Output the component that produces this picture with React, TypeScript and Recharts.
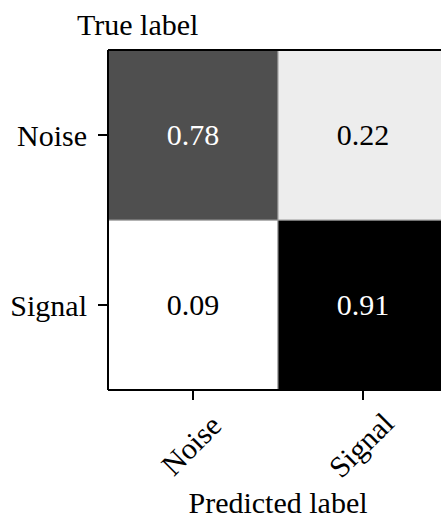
import { Bar, BarChart, Cell, LabelList, ReferenceLine, XAxis, YAxis } from "recharts";

const predictedLabels = ["Noise", "Signal"];
const trueLabels = ["Noise", "Signal"];
// rows of the matrix, by true label
const noiseRowValues = [0.78, 0.22];
const signalRowValues = [0.09, 0.91];
const yTicks = [0.5, 1.5];

const FONT = "Liberation Serif, Times New Roman, Times, serif";
const FONT_SIZE = 30;

// greys as drawn in the reference
const shades: Record<string, string> = {
  "0.78": "#4f4f4f",
  "0.22": "#ededed",
  "0.09": "#ffffff",
  "0.91": "#000000",
};

function shade(value: number): string {
  return shades[value.toFixed(2)] ?? "#888888";
}

const rows = predictedLabels.map((label, i) => ({
  predicted: label,
  signalCell: 1,
  noiseCell: 1,
  signalValue: signalRowValues[i],
  noiseValue: noiseRowValues[i],
}));

function CellText(props: any) {
  const { x, y, width, height, value } = props;
  return (
    <text
      x={x + width / 2}
      y={y + height / 2 - 1}
      textAnchor="middle"
      dominantBaseline="central"
      style={{ fontFamily: FONT, fontSize: FONT_SIZE }}
      fill={value > 0.5 ? "#ffffff" : "#000000"}
    >
      {value.toFixed(2)}
    </text>
  );
}

function RotatedTick(props: any) {
  const { x, y, payload } = props;
  const cx = x - 2;
  const cy = y + 43;
  return (
    <text
      x={cx}
      y={cy}
      textAnchor="middle"
      dominantBaseline="central"
      style={{ fontFamily: FONT, fontSize: FONT_SIZE }}
      fill="#000"
      transform={`rotate(-45 ${cx} ${cy})`}
    >
      {payload.value}
    </text>
  );
}

export default function App() {
  return (
    <div style={{ position: "absolute", left: 0, top: 0, width: 441, height: 518, overflow: "hidden", background: "#fff", fontFamily: FONT }}>
      <BarChart
        width={448}
        height={518}
        data={rows}
        margin={{ top: 50, right: 0, bottom: 0, left: 0 }}
        barCategoryGap={0}
        barGap={0}
      >
        <XAxis
          dataKey="predicted"
          type="category"
          height={128}
          tickSize={10}
          tickMargin={2}
          axisLine={{ stroke: "#000", strokeWidth: 2 }}
          tickLine={{ stroke: "#000", strokeWidth: 2 }}
          tick={<RotatedTick />}
          interval={0}
          label={{
            content: (p: any) => (
              <text
                x={p.viewBox.x + p.viewBox.width / 2}
                y={p.viewBox.y + 123}
                textAnchor="middle"
                style={{ fontFamily: FONT, fontSize: FONT_SIZE }}
                fill="#000"
              >
                Predicted label
              </text>
            ),
          }}
        />
        <YAxis
          type="number"
          domain={[0, 2]}
          ticks={yTicks}
          width={108}
          tickSize={10}
          tickMargin={11}
          axisLine={{ stroke: "#000", strokeWidth: 2 }}
          tickLine={{ stroke: "#000", strokeWidth: 2 }}
          tick={{ fontFamily: FONT, fontSize: FONT_SIZE, fill: "#000" }}
          tickFormatter={(v: number) => (v > 1 ? trueLabels[0] : trueLabels[1])}
          label={{
            content: (p: any) => (
              <text
                x={77}
                y={p.viewBox.y - 15}
                style={{ fontFamily: FONT, fontSize: FONT_SIZE }}
                fill="#000"
              >
                True label
              </text>
            ),
          }}
        />
        <Bar dataKey="signalCell" stackId="m" isAnimationActive={false}>
          {rows.map((r) => (
            <Cell key={r.predicted} fill={shade(r.signalValue)} stroke="#999" strokeWidth={1} />
          ))}
          <LabelList dataKey="signalValue" content={<CellText />} />
        </Bar>
        <Bar dataKey="noiseCell" stackId="m" isAnimationActive={false}>
          {rows.map((r) => (
            <Cell key={r.predicted} fill={shade(r.noiseValue)} stroke="#999" strokeWidth={1} />
          ))}
          <LabelList dataKey="noiseValue" content={<CellText />} />
        </Bar>
        <ReferenceLine y={2} stroke="#000" strokeWidth={2} />
      </BarChart>
    </div>
  );
}
